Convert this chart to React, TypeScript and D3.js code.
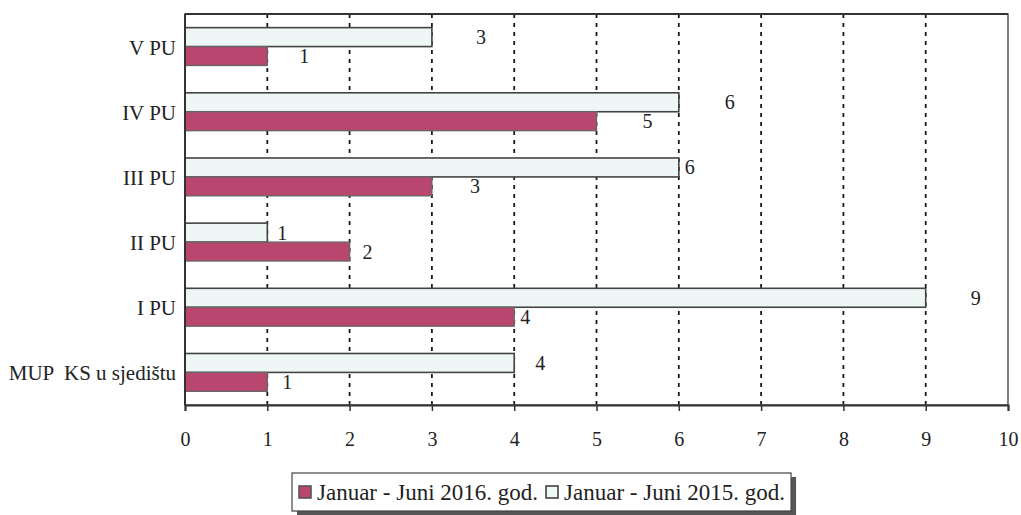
import React, { useEffect, useRef } from "react";
import * as d3 from "d3";

const categories = ["V PU", "IV PU", "III PU", "II PU", "I PU", "MUP  KS u sjedištu"];
const series = ["Januar - Juni 2015. god.", "Januar - Juni 2016. god."];
const values2015 = [3, 6, 6, 1, 9, 4];
const values2016 = [1, 5, 3, 2, 4, 1];
const xTicks = [0, 1, 2, 3, 4, 5, 6, 7, 8, 9, 10];
// label nudges (px to the right of bar end), as hand-placed in the original
const nudge2015 = [49, 51, 11, 15, 50, 26];
const nudge2016 = [37, 51, 43, 18, 11, 20];

const W = 1021;
const H = 515;
const M = { left: 185, right: 1008, top: 14, bottom: 405 };
const PINK = "#b9466f";
const LIGHT = "#eef6f6";
const FONT = '"Liberation Serif", "Times New Roman", "DejaVu Serif", serif';

export default function App() {
  const ref = useRef<SVGSVGElement | null>(null);

  useEffect(() => {
    document.body.style.margin = "0";
    const svg = d3.select(ref.current);
    svg.selectAll("*").remove();

    const x = d3.scaleLinear().domain([0, 10]).range([M.left, M.right]);
    const y = d3.scaleBand<string>().domain(categories).range([M.top, M.bottom]).paddingInner(0).paddingOuter(0);
    const inner = d3
      .scaleBand<string>()
      .domain(["2015", "2016"])
      .range([0, y.bandwidth()])
      .paddingInner(0)
      .paddingOuter(0.72);

    svg.append("rect").attr("x", 0).attr("y", 0).attr("width", W).attr("height", H).attr("fill", "#fff");

    // gridlines
    svg
      .append("g")
      .selectAll("line")
      .data(xTicks.filter((t) => t > 0 && t < 10))
      .join("line")
      .attr("x1", (d) => x(d))
      .attr("x2", (d) => x(d))
      .attr("y1", M.top)
      .attr("y2", M.bottom)
      .attr("stroke", "#1a1a1a")
      .attr("stroke-width", 1.8)
      .attr("stroke-dasharray", "4,5");

    const rows = categories.map((c, i) => ({ c, i, v15: values2015[i], v16: values2016[i] }));

    const g = svg.append("g");
    g.selectAll("rect.b15")
      .data(rows)
      .join("rect")
      .attr("class", "b15")
      .attr("x", x(0))
      .attr("y", (d) => (y(d.c) as number) + (inner("2015") as number))
      .attr("width", (d) => x(d.v15) - x(0))
      .attr("height", inner.bandwidth())
      .attr("fill", LIGHT)
      .attr("stroke", "#444")
      .attr("stroke-width", 1.6);
    g.selectAll("rect.b16")
      .data(rows)
      .join("rect")
      .attr("class", "b16")
      .attr("x", x(0))
      .attr("y", (d) => (y(d.c) as number) + (inner("2016") as number))
      .attr("width", (d) => x(d.v16) - x(0))
      .attr("height", inner.bandwidth())
      .attr("fill", PINK)
      .attr("stroke", "#666")
      .attr("stroke-width", 1.3);

    // value labels
    const lab = svg.append("g").attr("fill", "#222").attr("text-anchor", "middle");
    lab
      .selectAll("text.l15")
      .data(rows)
      .join("text")
      .attr("class", "l15")
      .style("font-family", FONT)
      .style("font-size", "20px")
      .attr("x", (d) => x(d.v15) + nudge2015[d.i])
      .attr("y", (d) => (y(d.c) as number) + (inner("2015") as number) + inner.bandwidth() / 2)
      .attr("dy", "0.35em")
      .text((d) => String(d.v15));
    lab
      .selectAll("text.l16")
      .data(rows)
      .join("text")
      .attr("class", "l16")
      .style("font-family", FONT)
      .style("font-size", "20px")
      .attr("x", (d) => x(d.v16) + nudge2016[d.i])
      .attr("y", (d) => (y(d.c) as number) + (inner("2016") as number) + inner.bandwidth() / 2)
      .attr("dy", "0.35em")
      .text((d) => String(d.v16));

    // plot border
    svg
      .append("rect")
      .attr("x", M.left)
      .attr("y", M.top)
      .attr("width", M.right - M.left)
      .attr("height", M.bottom - M.top)
      .attr("fill", "none")
      .attr("stroke", "#555")
      .attr("stroke-width", 1.5);
    svg.append("line").attr("x1", M.left).attr("x2", M.right).attr("y1", M.top).attr("y2", M.top).attr("stroke", "#333").attr("stroke-width", 2);
    svg.append("line").attr("x1", M.left).attr("x2", M.left).attr("y1", M.top).attr("y2", M.bottom).attr("stroke", "#333").attr("stroke-width", 2);

    // x axis
    const xAxis = d3.axisBottom(x).tickValues(xTicks).tickSize(6).tickPadding(21).tickFormat(d3.format("d"));
    const ax = svg.append("g").attr("transform", `translate(0,${M.bottom})`).call(xAxis);
    ax.select(".domain").attr("stroke", "#333").attr("stroke-width", 2);
    ax.selectAll(".tick line").attr("stroke", "#333").attr("stroke-width", 1.5);
    ax.selectAll(".tick text").style("font-family", FONT).style("font-size", "20px").attr("fill", "#222");

    // y axis labels
    const yAxis = d3.axisLeft(y).tickSize(0).tickPadding(9);
    const ay = svg.append("g").attr("transform", `translate(${M.left},0)`).call(yAxis);
    ay.select(".domain").remove();
    ay.selectAll(".tick text").style("font-family", FONT).style("font-size", "21px").attr("fill", "#222").attr("dy", "0.38em").style("white-space", "pre");

    // legend
    const leg = svg.append("g");
    const lx = 292, ly = 473, lh = 38;
    const shadow = leg.append("rect").attr("fill", "#555");
    const box = leg.append("rect").attr("fill", "#fff").attr("stroke", "#444").attr("stroke-width", 1.2);
    const items = [
      { name: series[1], fill: PINK, stroke: "#555" },
      { name: series[0], fill: LIGHT, stroke: "#444" },
    ];
    let cx = lx + 7;
    items.forEach((it) => {
      leg.append("rect").attr("x", cx).attr("y", ly + 13).attr("width", 12).attr("height", 12).attr("fill", it.fill).attr("stroke", it.stroke).attr("stroke-width", 1.6);
      const t = leg
        .append("text")
        .attr("x", cx + 18)
        .attr("y", ly + 27)
        .style("font-family", FONT)
        .style("font-size", "23px")
        .attr("fill", "#222")
        .text(it.name);
      const w = (t.node() as SVGTextElement).getComputedTextLength();
      cx = cx + 18 + w + 8;
    });
    const lw = cx - lx - 2;
    box.attr("x", lx).attr("y", ly).attr("width", lw).attr("height", lh);
    shadow.attr("x", lx + 5).attr("y", ly + 4).attr("width", lw).attr("height", lh);
  }, []);

  return <svg ref={ref} width={W} height={H} style={{ display: "block" }} />;
}
